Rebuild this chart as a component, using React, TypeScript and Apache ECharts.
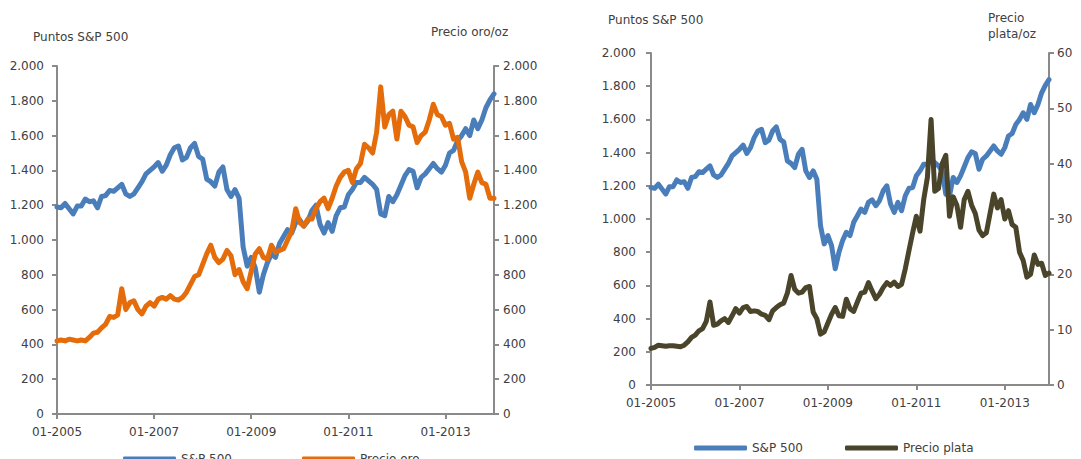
import { useEffect, useRef } from "react";
import * as echarts from "echarts";

// Monthly categories 01-2005 .. 01-2014
const categories: string[] = [];
for (let y = 2005; y <= 2014; y++) {
  for (let m = 1; m <= 12; m++) {
    if (categories.length < 109) categories.push(String(m).padStart(2, "0") + "-" + y);
  }
}

const spx = [
  1190, 1185, 1210, 1180, 1150, 1195, 1195, 1235, 1220, 1225, 1185, 1250,
  1255, 1285, 1280, 1300, 1320, 1265, 1250, 1265, 1300, 1335, 1380, 1400,
  1420, 1445, 1395, 1430, 1490, 1530, 1540, 1460, 1475, 1530, 1555, 1480,
  1465, 1350, 1335, 1310, 1390, 1420, 1290, 1250, 1290, 1240, 960, 850,
  900, 840, 700, 800, 870, 920, 900, 980, 1020, 1060, 1040, 1100,
  1115, 1080, 1110, 1170, 1200, 1090, 1040, 1100, 1050, 1140, 1185, 1190,
  1260, 1290, 1330, 1330, 1360, 1340, 1320, 1290, 1150, 1140, 1250, 1220,
  1260, 1315, 1370, 1405, 1395, 1300, 1360, 1380, 1410, 1440, 1410, 1390,
  1430, 1500, 1515, 1570, 1600, 1640, 1600, 1690, 1640, 1690, 1760, 1805,
  1840,
];

const gold = [
  420, 425, 420, 430, 425, 420, 425, 420, 440, 465, 470, 495,
  515, 560, 555, 570, 720, 600, 640, 650, 600, 575, 620, 640,
  620, 660, 670, 660, 680, 660, 655, 670, 700, 745, 790, 800,
  860, 920, 970, 900, 870, 890, 940, 910, 800, 830, 760, 720,
  820, 920, 950, 900, 890, 970, 930, 940, 950, 1000, 1050, 1180,
  1100, 1080, 1120, 1120, 1180, 1220, 1240, 1180, 1240, 1310, 1360, 1390,
  1400, 1330, 1410, 1440, 1550, 1530, 1500, 1620, 1880, 1650, 1720, 1740,
  1580, 1740, 1710, 1660, 1650, 1560, 1600, 1620, 1690, 1780, 1720, 1710,
  1660, 1670, 1580, 1590, 1450, 1390, 1240, 1320, 1390, 1330, 1320, 1240,
  1240,
];

const silver = [
  6.6, 6.8, 7.2, 7.1, 7.0, 7.1, 7.1, 7.0, 6.9, 7.2, 7.8, 8.6,
  9.0, 9.8, 10.2, 11.5, 15.0, 10.8, 11.0, 11.6, 12.0, 11.3, 12.5, 13.8,
  13.0, 14.0, 14.2, 13.3, 13.4, 13.3, 12.8, 12.6, 11.8, 13.4, 14.0, 14.5,
  14.8, 16.6, 19.8, 17.3, 16.6, 16.8, 17.6, 17.8, 13.2, 12.0, 9.2, 9.6,
  11.2, 12.8, 14.0, 12.5, 12.4, 15.5, 13.8, 13.3, 15.0, 16.6, 16.8, 18.5,
  17.0, 15.6, 16.4, 17.6, 18.5, 18.0, 18.6, 17.8, 18.2, 21.0, 24.3, 27.5,
  30.5, 27.8, 33.5, 37.5, 48.0, 35.0, 35.5, 40.0, 41.5, 30.5, 34.0, 32.5,
  28.5, 33.5, 35.0, 32.5, 31.0, 28.0, 27.0, 27.5, 31.0, 34.5, 32.0, 33.5,
  30.0, 31.5, 29.0, 28.5, 24.0, 22.5, 19.5, 20.0, 23.5, 21.8, 22.0, 19.8,
  20.2,
];

const FONT = "DejaVu Sans";
const TXT = "#404040";
const AX = "#8a8a8a";
const BLUE = "#4a7ebb";
const ORANGE = "#e46c0a";
const OLIVE = "#4a452a";

const fmt = (v: number) =>
  v >= 1000 ? Math.floor(v / 1000) + "." + String(v % 1000).padStart(3, "0") : String(v);

const every24 = (i: number) => i % 24 === 0;

function xAxis(gridIndex: number) {
  return {
    type: "category",
    gridIndex,
    data: categories,
    boundaryGap: false,
    axisLine: { lineStyle: { color: AX, width: 2 } },
    axisTick: { interval: every24, length: 5, lineStyle: { color: AX, width: 2 } },
    axisLabel: { interval: every24, color: TXT, fontSize: 12, fontFamily: FONT, margin: 12 },
    splitLine: { show: false },
  };
}

function yAxis(gridIndex: number, position: string, max: number, interval: number, margin: number) {
  return {
    type: "value",
    gridIndex,
    position,
    min: 0,
    max,
    interval,
    axisLine: { show: true, lineStyle: { color: AX, width: 2 } },
    axisTick: { show: true, length: 5, lineStyle: { color: AX, width: 2 } },
    axisLabel: { color: TXT, fontSize: 12, fontFamily: FONT, margin, formatter: fmt },
    splitLine: { show: false },
  };
}

function lineSeries(name: string, xi: number, yi: number, data: number[], color: string) {
  return {
    type: "line",
    name,
    xAxisIndex: xi,
    yAxisIndex: yi,
    data,
    color,
    showSymbol: false,
    symbol: "none",
    lineStyle: { width: 5, color, cap: "round", join: "round" },
  };
}

function legend(left: number, top: number, name: string) {
  return {
    left,
    top,
    padding: 0,
    data: [name],
    icon: "roundRect",
    itemWidth: 53,
    itemHeight: 5,
    selectedMode: false,
    textStyle: { color: TXT, fontSize: 12, fontFamily: FONT },
  };
}

function label(x: number, y: number, text: string) {
  return {
    type: "text",
    x,
    y,
    style: { text, fill: TXT, font: `12px "${FONT}"` },
  };
}

export default function App() {
  const ref = useRef<HTMLDivElement>(null);
  useEffect(() => {
    if (!ref.current) return;
    const chart = echarts.init(ref.current, null, { renderer: "svg" });
    chart.setOption({
      animation: false,
      backgroundColor: "#ffffff",
      grid: [
        { left: 57, top: 66, width: 437, height: 348 },
        { left: 651, top: 53, width: 398, height: 332 },
      ],
      xAxis: [xAxis(0), xAxis(1)],
      yAxis: [
        yAxis(0, "left", 2000, 200, 13),
        yAxis(0, "right", 2000, 200, 9),
        yAxis(1, "left", 2000, 200, 15),
        yAxis(1, "right", 60, 10, 8),
      ],
      legend: [
        legend(123, 453, "S&P 500"),
        legend(302, 453, "Precio oro"),
        legend(694, 442, "S&P 500"),
        legend(845, 442, "Precio plata"),
      ],
      graphic: [
        label(33, 31, "Puntos S&P 500"),
        label(431, 26, "Precio oro/oz"),
        label(608, 14, "Puntos S&P 500"),
        label(988, 12, "Precio"),
        label(988, 28, "plata/oz"),
      ],
      series: [
        lineSeries("S&P 500", 0, 0, spx, BLUE),
        lineSeries("Precio oro", 0, 1, gold, ORANGE),
        lineSeries("S&P 500", 1, 2, spx, BLUE),
        lineSeries("Precio plata", 1, 3, silver, OLIVE),
      ],
    });
    return () => chart.dispose();
  }, []);
  return (
    <div
      ref={ref}
      style={{ position: "absolute", left: 0, top: 0, width: 1081, height: 459 }}
    />
  );
}
